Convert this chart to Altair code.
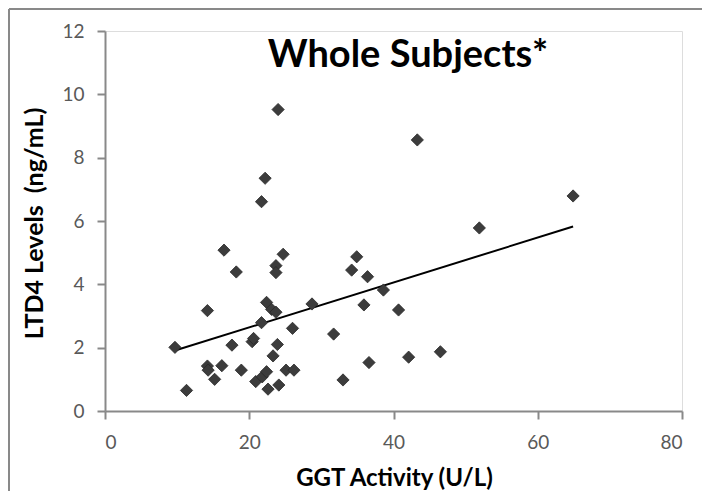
import altair as alt
import pandas as pd

ggt = [9.7, 11.3, 14.2, 14.2, 14.3, 15.2, 16.2, 16.5, 17.6, 18.2, 18.9, 20.4,
       20.6, 20.9, 21.7, 21.7, 21.8, 22.2, 22.4, 22.4, 22.6, 23.1, 23.3, 23.7,
       23.7, 23.7, 23.9, 24.0, 24.1, 24.7, 25.1, 26.0, 26.2, 28.7, 31.7, 33.0,
       34.2, 34.9, 35.9, 36.4, 36.6, 38.6, 40.7, 42.1, 43.3, 46.5, 51.9, 64.9]
ltd4 = [2.01, 0.65, 3.17, 1.42, 1.29, 1.00, 1.43, 5.08, 2.08, 4.39, 1.29, 2.19,
        2.29, 0.93, 6.61, 2.79, 1.08, 7.35, 3.43, 1.24, 0.69, 3.21, 1.74, 4.59,
        4.37, 3.12, 2.10, 9.52, 0.82, 4.95, 1.29, 2.61, 1.29, 3.38, 2.43, 0.98,
        4.45, 4.87, 3.35, 4.24, 1.53, 3.82, 3.19, 1.70, 8.56, 1.87, 5.78, 6.79]
x_ticks = [0, 20, 40, 60, 80]
y_ticks = [0, 2, 4, 6, 8, 10, 12]
chart_title = ["Whole Subjects*"]

df = pd.DataFrame({"ggt": ggt, "ltd4": ltd4})

FONT = "Lato"
AX = "#898989"
LAB = "#595959"

x = alt.X("ggt:Q", scale=alt.Scale(domain=[0, 80], nice=False),
          axis=alt.Axis(values=x_ticks, title="GGT Activity (U/L)", grid=False,
                        domainColor=AX, domainWidth=2, tickColor=AX, tickWidth=2,
                        tickSize=8, labelPadding=14, labelFontSize=19, labelColor=LAB,
                        labelFont=FONT, titleFont=FONT, titleFontSize=24,
                        titleFontWeight="bold", titleColor="black",
                        titleX=289, titleY=74, titleBaseline="alphabetic"))
y = alt.Y("ltd4:Q", scale=alt.Scale(domain=[0, 12], nice=False),
          axis=alt.Axis(values=y_ticks, title="LTD4 Levels\u00a0 (ng/mL)", grid=False,
                        domainColor=AX, domainWidth=2, tickColor=AX, tickWidth=2,
                        tickSize=8, labelPadding=13, labelFontSize=19, labelColor=LAB,
                        labelFont=FONT, titleFont=FONT, titleFontSize=25,
                        titleFontWeight="bold", titleColor="black",
                        titleX=-58, titleY=192, titleAngle=270, titleBaseline="bottom"))

base = alt.Chart(df)
points = base.mark_point(shape="diamond", filled=True, size=150, fill="#3c3c3c",
                         stroke="#2a2a2a", strokeWidth=0.8, opacity=1).encode(x=x, y=y)
trend = base.transform_regression("ggt", "ltd4").mark_line(
    color="black", strokeWidth=2).encode(x="ggt:Q", y="ltd4:Q")

title = alt.Chart(pd.DataFrame({"t": chart_title})).mark_text(
    font=FONT, fontSize=38, fontWeight="bold", color="black",
    align="center", baseline="alphabetic").encode(
    text="t:N", x=alt.value(303), y=alt.value(36))

frame_top = alt.Chart(pd.DataFrame({"a": [0]})).mark_rule(color=AX, strokeWidth=2).encode(
    x=alt.value(-96), x2=alt.value(620), y=alt.value(-22))
frame_left = alt.Chart(pd.DataFrame({"a": [0]})).mark_rule(color=AX, strokeWidth=2).encode(
    x=alt.value(-96), y=alt.value(-22), y2=alt.value(460))

chart = alt.layer(trend, points, title, frame_top, frame_left).properties(
    width=577, height=380,
    autosize=alt.AutoSizeParams(type="none"),
    padding={"left": 97, "top": 23, "right": 20, "bottom": 81},
).configure_view(stroke=None).configure(background="white")

chart.save("out.html", embed_options={"renderer": "svg", "actions": False})
